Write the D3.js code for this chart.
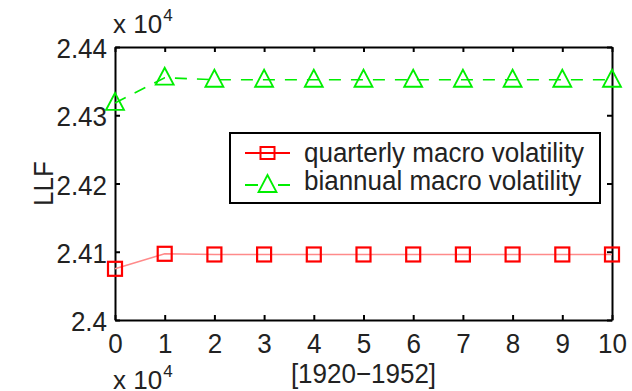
<!DOCTYPE html>
<html>
<head>
<meta charset="utf-8">
<script src="https://cdn.jsdelivr.net/npm/d3@7/dist/d3.min.js"></script>
<style>
  html, body { margin: 0; padding: 0; background: #fff; }
  svg { display: block; }
  text { font-family: "Liberation Sans", Arial, Helvetica, sans-serif; fill: #222; }
  /* slightly tall lettering */
  text.tall { transform-box: fill-box; transform-origin: 50% 100%; transform: scaleY(1.07); }
</style>
</head>
<body>
<svg id="chart" width="632" height="391"></svg>
<script>
// Log-likelihood per setting; the axes carry "x 10^4" multipliers
const xValues = [0, 1, 2, 3, 4, 5, 6, 7, 8, 9, 10];
const quarterlyLLF = [24075, 24097, 24096, 24096, 24096, 24096, 24096, 24096, 24096, 24096, 24096];
const biannualLLF  = [24318, 24355, 24352, 24352, 24352, 24352, 24352, 24352, 24352, 24352, 24352];
const xTicks = [0, 1, 2, 3, 4, 5, 6, 7, 8, 9, 10];
const yTicks = [24000, 24100, 24200, 24300, 24400];
const seriesNames = ["quarterly macro volatility", "biannual macro volatility"];
const xAxisLabel = "[1920\u22121952]";
const yAxisLabel = "LLF";

const svg = d3.select("#chart");
const plot = { left: 115, right: 612, top: 47, bottom: 320 };

const x = d3.scaleLinear().domain([0, 10]).range([plot.left, plot.right]);
const y = d3.scaleLinear().domain([24000, 24400]).range([plot.bottom, plot.top]);

const fontSize = 26;
const tickLen = 5;

// Axes box with inward ticks on all four sides
const axisG = svg.append("g");
const bottomAxis = d3.axisBottom(x).tickValues(xTicks).tickSizeInner(-tickLen).tickSizeOuter(0).tickFormat(d3.format("d"));
const topAxis = d3.axisTop(x).tickValues(xTicks).tickSizeInner(-tickLen).tickSizeOuter(0).tickFormat("");
const leftAxis = d3.axisLeft(y).tickValues(yTicks).tickSizeInner(-tickLen).tickSizeOuter(0)
  .tickFormat(d => d3.format("")(+(d / 10000).toFixed(2)));
const rightAxis = d3.axisRight(y).tickValues(yTicks).tickSizeInner(-tickLen).tickSizeOuter(0).tickFormat("");

const gB = axisG.append("g").attr("transform", `translate(0,${plot.bottom})`).call(bottomAxis);
const gT = axisG.append("g").attr("transform", `translate(0,${plot.top})`).call(topAxis);
const gL = axisG.append("g").attr("transform", `translate(${plot.left},0)`).call(leftAxis);
const gR = axisG.append("g").attr("transform", `translate(${plot.right},0)`).call(rightAxis);

[gB, gT, gL, gR].forEach(g => {
  g.select(".domain").attr("stroke", "#000").attr("stroke-width", 2);
  g.selectAll(".tick line").attr("stroke", "#000").attr("stroke-width", 2);
});
gB.selectAll(".tick text")
  .attr("class", "tall")
  .attr("font-size", fontSize).attr("fill", "#222")
  .attr("font-family", "Liberation Sans, Arial, sans-serif")
  .attr("dy", null).attr("y", 33);
gL.selectAll(".tick text")
  .attr("class", "tall")
  .attr("font-size", fontSize).attr("fill", "#222")
  .attr("font-family", "Liberation Sans, Arial, sans-serif")
  .attr("x", -8).attr("dy", null).attr("y", 11);

// Series lines
const line = d3.line().x((d, i) => x(xValues[i])).y(d => y(d));

svg.append("path").datum(quarterlyLLF)
  .attr("d", line).attr("fill", "none")
  .attr("stroke", "#ff8a8a").attr("stroke-width", 1.6);

svg.append("path").datum(biannualLLF)
  .attr("d", line).attr("fill", "none")
  .attr("stroke", "#00ee00").attr("stroke-width", 1.6)
  .attr("stroke-dasharray", "12,10");

// Markers
const sq = 14;
svg.append("g").selectAll("rect").data(quarterlyLLF).join("rect")
  .attr("x", (d, i) => x(xValues[i]) - sq / 2)
  .attr("y", d => y(d) - sq / 2)
  .attr("width", sq).attr("height", sq)
  .attr("fill", "none").attr("stroke", "#ff0000").attr("stroke-width", 2.2);

const tri = "M0,-10 L9,7 L-9,7 Z";
svg.append("g").selectAll("path").data(biannualLLF).join("path")
  .attr("transform", (d, i) => `translate(${x(xValues[i])},${y(d)})`)
  .attr("d", tri)
  .attr("fill", "none").attr("stroke", "#00ee00").attr("stroke-width", 1.8);

// Legend
const legend = svg.append("g");
legend.append("rect")
  .attr("x", 230).attr("y", 133).attr("width", 370).attr("height", 70)
  .attr("fill", "#fff").attr("stroke", "#000").attr("stroke-width", 2);

const legendRows = [
  { name: seriesNames[0], color: "#ff0000", ly: 153, ty: 162, marker: "square" },
  { name: seriesNames[1], color: "#00ee00", ly: 185, ty: 190, marker: "triangle" }
];
legendRows.forEach(r => {
  const ln = legend.append("line")
    .attr("x1", 245).attr("x2", 290).attr("y1", r.ly).attr("y2", r.ly)
    .attr("stroke", r.color).attr("stroke-width", 2);
  if (r.marker === "square") {
    legend.append("rect").attr("x", 267.5 - 7).attr("y", r.ly - 6).attr("width", 14).attr("height", 12)
      .attr("fill", "none").attr("stroke", r.color).attr("stroke-width", 2);
  } else {
    ln.attr("stroke-dasharray", "13,20");
    legend.append("path").attr("transform", `translate(267.5,${r.ly})`).attr("d", tri)
      .attr("fill", "none").attr("stroke", r.color).attr("stroke-width", 1.8);
  }
  legend.append("text").attr("class", "tall").attr("x", 304).attr("y", r.ty)
    .attr("font-size", fontSize).text(r.name);
});

// Exponent multipliers
function multiplier(xPos, yBase) {
  const t = svg.append("text").attr("x", xPos).attr("y", yBase).attr("font-size", fontSize);
  t.append("tspan").text("x 10");
  t.append("tspan").attr("font-size", 17).attr("dy", -12).attr("dx", 1).text("4");
}
multiplier(113, 33);
multiplier(113, 389);

// Axis labels
svg.append("text")
  .attr("class", "tall")
  .attr("x", (plot.left + plot.right) / 2).attr("y", 383)
  .attr("text-anchor", "middle").attr("font-size", fontSize)
  .text(xAxisLabel);

svg.append("g")
  .attr("transform", `translate(53,${(plot.top + plot.bottom) / 2}) rotate(-90)`)
  .append("text")
  .attr("class", "tall")
  .attr("text-anchor", "middle").attr("font-size", fontSize)
  .text(yAxisLabel);
</script>
</body>
</html>
